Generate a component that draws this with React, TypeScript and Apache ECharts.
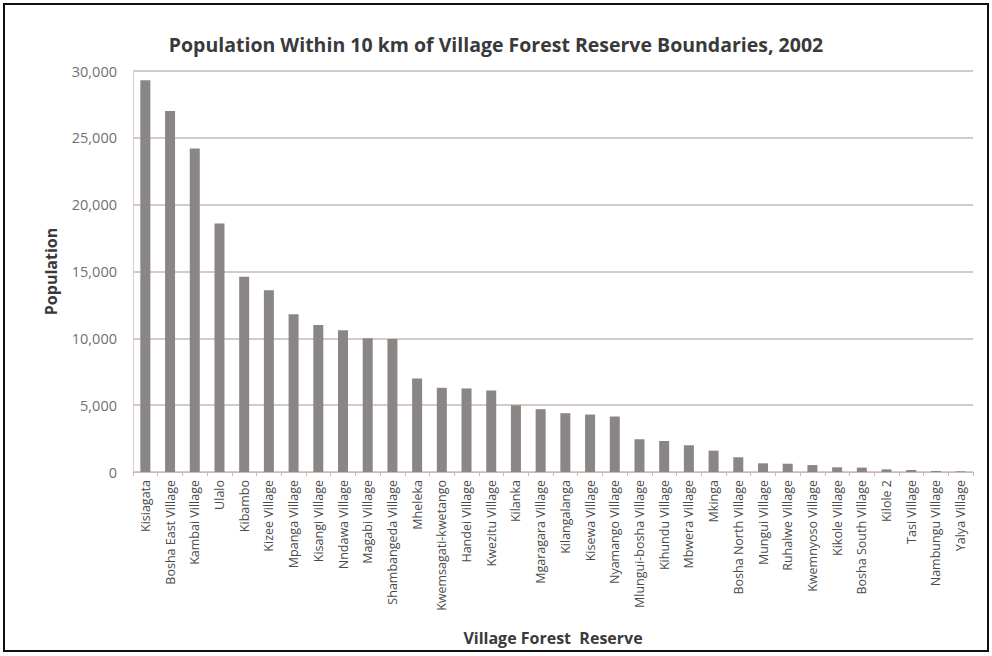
import React, { useEffect, useRef } from "react";
import * as echarts from "echarts";

const categories = [
  "Kisiagata", "Bosha East Village", "Kambai Village", "Ulalo", "Kibambo",
  "Kizee Village", "Mpanga Village", "Kisangi Village", "Nndawa Village", "Magabi Village",
  "Shambangeda Village", "Mheleka", "Kwemsagati-kwetango", "Handei Village", "Kwezitu Village",
  "Kilanka", "Mgaragara Village", "Kilangalanga", "Kisewa Village", "Nyamango Village",
  "Mlungui-bosha Village", "Kihundu Village", "Mbwera Village", "Mkinga", "Bosha North Village",
  "Mungui Village", "Ruhalwe Village", "Kwemnyoso Village", "Kikole Village", "Bosha South Village",
  "Kilole 2", "Tasi Village", "Nambungu Village", "Yalya Village",
];

const population = [
  29300, 27000, 24200, 18600, 14600,
  13600, 11800, 11000, 10600, 10000,
  9950, 7000, 6300, 6250, 6100,
  5000, 4700, 4400, 4300, 4150,
  2450, 2320, 2000, 1600, 1100,
  650, 620, 520, 350, 330,
  200, 150, 80, 50,
];

const yTicks = [0, 5000, 10000, 15000, 20000, 25000, 30000];

export default function App() {
  const ref = useRef<HTMLDivElement>(null);
  useEffect(() => {
    if (!ref.current) return;
    const chart = echarts.init(ref.current, undefined, { renderer: "svg" });
    chart.setOption({
      animation: false,
      backgroundColor: "#ffffff",
      graphic: [
        {
          type: "rect",
          shape: { x: 4, y: 4, width: 984, height: 647 },
          style: { fill: "none", stroke: "#111", lineWidth: 2 },
          silent: true,
        },
      ],
      title: {
        text: "Population Within 10 km of Village Forest Reserve Boundaries, 2002",
        left: "center",
        top: 29,
        textStyle: { fontFamily: "Open Sans", fontSize: 19.5, fontWeight: "bold", color: "#3a3a3a" },
      },
      grid: { left: 133, right: 19, top: 71, bottom: 184, containLabel: false },
      xAxis: {
        type: "category",
        data: categories,
        name: "Village Forest  Reserve",
        nameLocation: "middle",
        nameGap: 158,
        nameTextStyle: { fontFamily: "Open Sans", fontSize: 16, fontWeight: "bold", color: "#3a3a3a" },
        axisLine: { show: true, lineStyle: { color: "#c9b9b1", width: 1 } },
        axisTick: { show: true, length: 4, lineStyle: { color: "#c9b9b1" } },
        axisLabel: {
          interval: 0,
          rotate: 90,
          margin: 8,
          fontFamily: "Open Sans",
          fontSize: 12.5,
          color: "#4a4a4a",
        },
      },
      yAxis: {
        type: "value",
        min: 0,
        max: 30000,
        interval: 5000,
        name: "Population",
        nameLocation: "middle",
        nameGap: 74,
        nameRotate: 90,
        nameTextStyle: { fontFamily: "Open Sans", fontSize: 16, fontWeight: "bold", color: "#3a3a3a" },
        axisLine: { show: true, lineStyle: { color: "#d8ccc6" } },
        axisTick: { show: false },
        splitLine: { show: true, lineStyle: { color: "#c9b9b1", width: 1.5 } },
        axisLabel: {
          fontFamily: "Open Sans",
          fontSize: 14.5,
          color: "#707070",
          margin: 16,
          formatter: (v: number) => (yTicks.includes(v) ? v.toLocaleString("en-US") : ""),
        },
      },
      series: [
        {
          type: "bar",
          data: population,
          barWidth: 10,
          itemStyle: { color: "#8a8685" },
        },
      ],
    });
    return () => chart.dispose();
  }, []);
  return (
    <div
      ref={ref}
      style={{ position: "absolute", left: 0, top: 0, width: 992, height: 656 }}
    />
  );
}
